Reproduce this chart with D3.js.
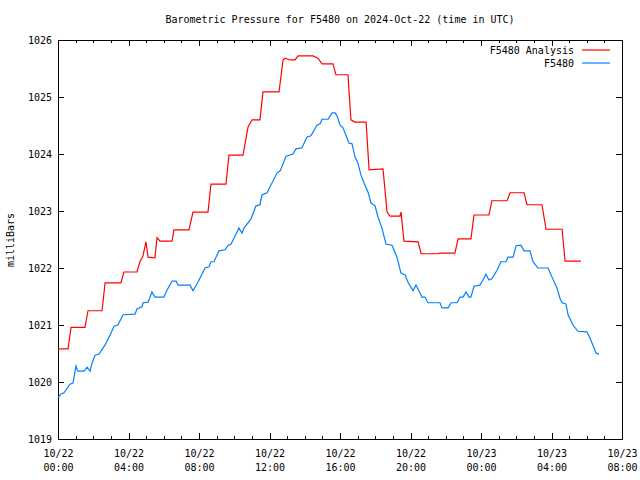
<!DOCTYPE html>
<html><head><meta charset="utf-8">
<script src="https://cdn.jsdelivr.net/npm/d3@7"></script>
<style>
body{margin:0;background:#fff;}
text{font-family:"DejaVu Sans Mono","Liberation Mono",monospace;font-size:10px;fill:#000;}
</style></head>
<body>
<svg id="chart" width="640" height="480"></svg>
<script>
// Hours since 2024-10-22 00:00 UTC
const analysisHours = [0,0.57,0.74,1.53,1.70,2.50,2.67,3.57,3.74,4.48,4.65,4.82,4.99,5.11,5.50,5.62,5.79,6.47,6.58,7.43,7.66,8.51,8.68,9.53,9.70,10.50,10.78,11.01,11.46,11.63,12.54,12.77,12.88,13.16,13.45,13.62,14.47,14.75,14.98,15.60,15.77,16.45,16.62,16.85,17.48,17.65,18.44,18.67,18.84,19.40,19.46,19.63,20.43,20.60,21.56,21.67,22.52,22.70,23.43,23.60,24.45,24.62,25.48,25.65,26.44,26.61,27.46,27.69,28.60,28.77,29.67];
const analysisValues = [1020.58,1020.58,1020.96,1020.96,1021.25,1021.25,1021.74,1021.74,1021.93,1021.93,1022.11,1022.21,1022.46,1022.19,1022.18,1022.53,1022.47,1022.47,1022.67,1022.67,1022.98,1022.98,1023.47,1023.47,1023.98,1023.98,1024.47,1024.60,1024.60,1025.09,1025.09,1025.65,1025.68,1025.65,1025.65,1025.72,1025.72,1025.68,1025.58,1025.58,1025.39,1025.39,1024.60,1024.56,1024.56,1023.72,1023.74,1022.98,1022.91,1022.91,1022.98,1022.47,1022.46,1022.25,1022.25,1022.26,1022.26,1022.51,1022.51,1022.93,1022.93,1023.18,1023.18,1023.32,1023.32,1023.11,1023.11,1022.68,1022.68,1022.12,1022.12];

const stationHours = [0,0.17,0.34,0.68,0.85,1.02,1.13,1.48,1.65,1.82,1.93,2.10,2.33,2.67,2.95,3.18,3.40,3.69,4.37,4.48,4.77,4.82,5.11,5.33,5.50,6.01,6.18,6.47,6.70,6.81,7.49,7.66,7.94,8.34,8.57,8.68,8.85,9.13,9.48,9.65,9.82,10.27,10.44,10.55,10.95,11.23,11.46,11.57,11.86,12.43,12.60,12.94,13.33,13.50,13.84,14.13,14.35,14.70,14.87,14.98,15.32,15.55,15.72,15.83,16.00,16.17,16.40,16.51,16.68,16.85,17.02,17.19,17.36,17.59,17.76,17.99,18.16,18.38,18.61,18.95,19.23,19.46,19.69,19.86,20.14,20.31,20.54,20.65,20.82,20.99,21.67,21.79,22.13,22.30,22.64,22.81,22.98,23.15,23.32,23.43,23.60,23.94,24.11,24.28,24.45,24.62,24.91,25.13,25.42,25.53,25.82,25.99,26.27,26.44,26.78,26.95,27.23,27.80,28.03,28.31,28.48,28.60,28.82,28.94,29.22,29.50,30.01,30.18,30.41,30.52,30.70];
const stationValues = [1019.72,1019.79,1019.81,1019.96,1019.98,1020.28,1020.19,1020.19,1020.26,1020.19,1020.33,1020.47,1020.49,1020.65,1020.82,1020.98,1021.00,1021.18,1021.19,1021.28,1021.32,1021.39,1021.40,1021.58,1021.49,1021.49,1021.61,1021.77,1021.77,1021.70,1021.70,1021.60,1021.75,1022.00,1022.02,1022.11,1022.11,1022.30,1022.32,1022.40,1022.42,1022.70,1022.61,1022.70,1022.86,1023.09,1023.11,1023.28,1023.32,1023.67,1023.70,1023.96,1024.00,1024.09,1024.11,1024.30,1024.32,1024.51,1024.53,1024.61,1024.61,1024.72,1024.72,1024.67,1024.51,1024.46,1024.28,1024.19,1024.18,1023.95,1023.84,1023.63,1023.49,1023.33,1023.14,1023.09,1022.89,1022.70,1022.42,1022.40,1022.19,1021.91,1021.88,1021.75,1021.60,1021.70,1021.56,1021.49,1021.49,1021.39,1021.39,1021.30,1021.30,1021.39,1021.39,1021.49,1021.49,1021.58,1021.49,1021.49,1021.68,1021.70,1021.79,1021.89,1021.79,1021.81,1021.96,1022.11,1022.11,1022.19,1022.19,1022.39,1022.40,1022.30,1022.30,1022.11,1022.00,1022.00,1021.84,1021.65,1021.47,1021.39,1021.37,1021.18,1021.00,1020.89,1020.88,1020.77,1020.60,1020.51,1020.49];

const yTicks = [1019,1020,1021,1022,1023,1024,1025,1026];
const seriesNames = ["F5480 Analysis","F5480"];
const seriesColors = ["#ff0000","#0080ff"];
const titleText = "Barometric Pressure for F5480 on 2024-Oct-22 (time in UTC)";
const yLabel = "milliBars";

const base = Date.UTC(2024,9,22,0,0);
const toDate = h => new Date(base + h*3600e3);

const L=58,R=622,T=40,B=439;
const svg = d3.select("#chart");
const x = d3.scaleUtc().domain([toDate(0), toDate(32)]).range([L,R]);
const y = d3.scaleLinear().domain([1019,1026]).range([B,T]);

const majorX = d3.range(0,33,4).map(toDate);
const minorX = d3.range(0,33,1).map(toDate);
const pad = n => String(n).padStart(2,"0");

// minor ticks bottom/top
const gMinor = svg.append("g");
gMinor.append("g").attr("transform",`translate(0,${B})`)
  .call(d3.axisBottom(x).tickValues(minorX).tickSize(-3).tickFormat(""))
  .call(g=>g.select(".domain").remove());
gMinor.append("g").attr("transform",`translate(0,${T})`)
  .call(d3.axisTop(x).tickValues(minorX).tickSize(-3).tickFormat(""))
  .call(g=>g.select(".domain").remove());

// major x ticks bottom with labels
const gx = svg.append("g").attr("transform",`translate(0,${B})`)
  .call(d3.axisBottom(x).tickValues(majorX).tickSize(-6).tickPadding(10)
    .tickFormat(""))
  .call(g=>g.select(".domain").remove());
gx.selectAll(".tick").each(function(d){
  const t = d3.select(this).append("text").attr("text-anchor","middle").attr("fill","#000");
  t.append("tspan").attr("x",0).attr("y",18).text(`${pad(d.getUTCMonth()+1)}/${pad(d.getUTCDate())}`);
  t.append("tspan").attr("x",0).attr("y",32).text(`${pad(d.getUTCHours())}:${pad(d.getUTCMinutes())}`);
});
svg.append("g").attr("transform",`translate(0,${T})`)
  .call(d3.axisTop(x).tickValues(majorX).tickSize(-6).tickFormat(""))
  .call(g=>g.select(".domain").remove());

// y axes
svg.append("g").attr("transform",`translate(${L},0)`)
  .call(d3.axisLeft(y).tickValues(yTicks).tickSize(-6).tickPadding(6).tickFormat(d3.format("d")))
  .call(g=>g.select(".domain").remove())
  .call(g=>g.selectAll("text").attr("font-size",10).attr("font-family",null).attr("dy","0.35em"));
svg.append("g").attr("transform",`translate(${R},0)`)
  .call(d3.axisRight(y).tickValues(yTicks).tickSize(-6).tickFormat(""))
  .call(g=>g.select(".domain").remove());
svg.selectAll(".tick line").attr("stroke","#000").attr("shape-rendering","crispEdges");
svg.selectAll(".tick text").attr("font-size",10).attr("font-family",null);

// frame
svg.append("rect").attr("x",L).attr("y",T).attr("width",R-L).attr("height",B-T)
  .attr("fill","none").attr("stroke","#000").attr("shape-rendering","crispEdges");

// lines
const line = d3.line().x(d=>x(toDate(d[0]))).y(d=>y(d[1]));
const series = [
  analysisHours.map((h,i)=>[h,analysisValues[i]]),
  stationHours.map((h,i)=>[h,stationValues[i]])
];
series.forEach((s,i)=>{
  svg.append("path").datum(s).attr("d",line).attr("fill","none")
    .attr("stroke",seriesColors[i]).attr("stroke-width",1.2);
});

// title
svg.append("text").attr("x",(L+R)/2).attr("y",23).attr("text-anchor","middle").text(titleText);
// y label
svg.append("text").attr("transform","translate(14,240) rotate(-90)").attr("text-anchor","middle").text(yLabel);

// legend
seriesNames.forEach((n,i)=>{
  const ly = 50 + i*13;
  svg.append("text").attr("x",574).attr("y",ly).attr("dy","0.35em").attr("text-anchor","end").text(n);
  svg.append("line").attr("x1",582).attr("x2",610).attr("y1",ly).attr("y2",ly)
    .attr("stroke",seriesColors[i]).attr("stroke-width",1.2);
});
</script>
</body></html>
